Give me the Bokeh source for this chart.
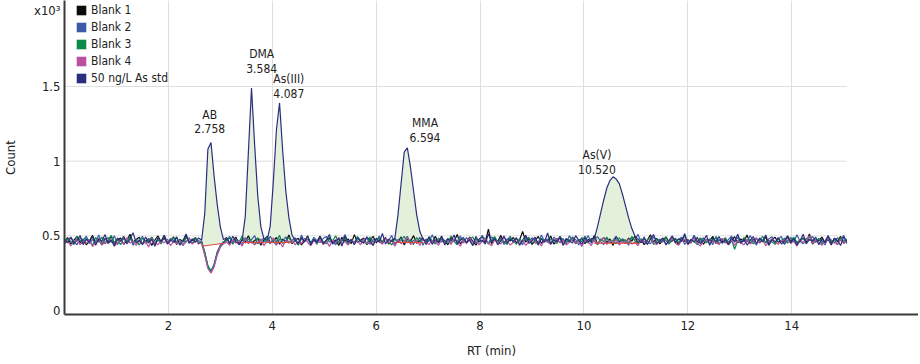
import numpy as np
from bokeh.plotting import figure
from bokeh.models import Range1d, FixedTicker, Legend, LegendItem, ColumnDataSource
from bokeh.core.properties import value
from bokeh.embed import file_html
from bokeh.resources import INLINE

# ---------------- data ----------------
RT_STEP = 0.06  # minutes between samples, first sample at 0 min

std_50 = [
    472, 455, 490, 448, 468, 502, 441, 476, 459, 495, 437, 481,
    463, 508, 450, 471, 433, 486, 465, 497, 446, 478, 521, 452,
    469, 440, 492, 458, 475, 430, 488, 461, 504, 444, 473, 456,
    491, 438, 467, 512, 449, 479, 457, 486, 470, 650, 1080, 1125,
    900, 710, 560, 475, 488, 452, 497, 461, 443, 470, 630, 1060,
    1490, 1110, 770, 560, 480, 470, 565, 860, 1210, 1390, 1070, 800,
    620, 505, 468, 447, 489, 460, 501, 439, 476, 455, 493, 448,
    471, 509, 444, 466, 482, 431, 497, 458, 474, 440, 486, 462,
    451, 493, 470, 436, 484, 457, 516, 445, 478, 461, 485, 640,
    850, 1060, 1090, 960, 800, 640, 530, 478, 459, 492, 443, 474,
    456, 499, 438, 481, 463, 505, 447, 470, 489, 452, 476, 434,
    495, 460, 471, 445, 513, 458, 483, 440, 466, 498, 451, 477,
    462, 487, 436, 472, 504, 449, 468, 491, 442, 480, 457, 519,
    446, 474, 461, 496, 437, 483, 466, 452, 501, 470, 444, 488,
    459, 478, 482, 560, 650, 740, 820, 870, 895, 880, 850, 780,
    700, 620, 550, 500, 478, 453, 492, 441, 475, 509, 448, 467,
    485, 439, 471, 498, 454, 480, 462, 515, 443, 476, 458, 490,
    447, 469, 503, 436, 484, 461, 495, 450, 473, 442, 488, 464,
    510, 453, 479, 438, 467, 494, 449, 482, 460, 506, 441, 474,
    457, 489, 445, 470, 499, 452, 481, 437, 466, 511, 448, 476,
    463, 492, 440, 478, 455, 502, 446, 484, 469, 435, 493, 460,
]

blank_1 = [
    461, 488, 447, 470, 495, 452, 479, 440, 466, 503, 455, 474,
    438, 482, 460, 497, 449, 471, 486, 443, 468, 510, 457, 476,
    491, 445, 463, 480, 436, 472, 499, 458, 484, 450, 467, 493,
    442, 478, 461, 505, 453, 470, 488, 446, 460, 385, 295, 258,
    305, 385, 432, 455, 481, 449, 466, 492, 441, 475, 458, 500,
    451, 469, 484, 437, 473, 496, 455, 462, 489, 444, 478, 459,
    506, 447, 471, 483, 439, 465, 494, 452, 476, 461, 498, 443,
    468, 487, 454, 472, 435, 490, 463, 479, 448, 508, 457, 470,
    485, 441, 466, 497, 453, 474, 460, 489, 445, 471, 482, 456,
    493, 438, 477, 464, 501, 450, 469, 486, 443, 475, 459, 496,
    452, 480, 467, 440, 488, 462, 509, 446, 473, 457, 491, 464,
    437, 476, 495, 455, 545, 448, 484, 461, 503, 444, 478, 466,
    489, 453, 472, 530, 458, 481, 442, 467, 496, 450, 474, 463,
    499, 445, 470, 486, 439, 477, 458, 492, 451, 468, 482, 447,
    475, 460, 502, 443, 469, 488, 454, 479, 436, 494, 461, 472,
    448, 485, 464, 497, 452, 476, 441, 470, 507, 457, 483, 446,
    471, 493, 455, 466, 480, 438, 489, 462, 474, 451, 500, 459,
    484, 443, 477, 468, 496, 449, 472, 458, 487, 440, 465, 494,
    453, 479, 462, 505, 446, 471, 483, 455, 468, 492, 437, 476,
    490, 457, 470, 444, 498, 463, 481, 450, 474, 486, 459, 512,
    445, 473, 467, 491, 454, 478, 439, 484, 461, 496, 450, 469,
]

blank_2 = [
    478, 452, 491, 463, 440, 486, 470, 498, 447, 475, 459, 506,
    449, 473, 488, 456, 501, 442, 467, 483, 458, 494, 436, 479,
    465, 497, 450, 476, 489, 445, 471, 460, 504, 453, 482, 468,
    492, 439, 474, 459, 487, 448, 480, 466, 462, 375, 285, 262,
    310, 392, 438, 460, 470, 496, 452, 481, 463, 440, 489, 457,
    475, 502, 446, 469, 484, 453, 497, 461, 438, 478, 466, 493,
    451, 472, 487, 443, 505, 460, 476, 449, 490, 467, 455, 482,
    496, 458, 471, 439, 485, 464, 509, 452, 477, 446, 493, 469,
    457, 488, 443, 475, 462, 498, 450, 481, 468, 503, 441, 474,
    486, 462, 497, 448, 471, 455, 490, 437, 479, 464, 507, 451,
    470, 494, 458, 483, 445, 476, 461, 499, 453, 488, 466, 440,
    481, 456, 503, 469, 449, 492, 474, 458, 485, 443, 471, 497,
    455, 479, 466, 440, 495, 461, 487, 473, 450, 506, 464, 478,
    443, 491, 470, 457, 482, 448, 500, 467, 475, 439, 489, 460,
    502, 450, 477, 494, 463, 442, 485, 456, 471, 498, 452, 480,
    466, 437, 488, 472, 510, 454, 479, 461, 446, 493, 475, 458,
    483, 468, 445, 499, 457, 476, 490, 442, 472, 460, 504, 449,
    462, 487, 454, 478, 441, 495, 467, 483, 451, 474, 498, 456,
    490, 447, 473, 459, 501, 464, 438, 486, 470, 455, 480, 493,
    452, 476, 496, 444, 468, 489, 458, 507, 463, 447, 484, 471,
    497, 456, 480, 465, 439, 492, 473, 451, 488, 466, 503, 448,
]

blank_3 = [
    455, 480, 463, 441, 497, 468, 452, 484, 470, 436, 489, 458,
    492, 447, 469, 503, 454, 477, 440, 486, 462, 495, 450, 473,
    438, 483, 466, 452, 491, 460, 475, 445, 500, 457, 470, 487,
    459, 476, 433, 490, 464, 449, 481, 456, 458, 392, 300, 265,
    298, 378, 428, 452, 466, 487, 444, 473, 459, 499, 451, 478,
    463, 439, 485, 470, 456, 494, 446, 476, 461, 503, 448, 467,
    488, 454, 472, 437, 480, 465, 496, 451, 474, 443, 490, 460,
    447, 478, 463, 501, 452, 469, 484, 440, 471, 457, 493, 462,
    476, 444, 492, 458, 467, 486, 449, 479, 462, 438, 483, 455,
    469, 497, 453, 474, 441, 488, 460, 477, 450, 494, 465, 446,
    485, 458, 471, 448, 499, 463, 440, 482, 468, 454, 479, 492,
    451, 474, 460, 487, 445, 470, 495, 456, 473, 464, 442, 489,
    466, 443, 481, 458, 476, 490, 453, 469, 437, 484, 471, 457,
    480, 461, 449, 494, 467, 455, 472, 488, 445, 476, 460, 499,
    450, 484, 465, 441, 478, 462, 492, 455, 470, 447, 486, 463,
    474, 452, 496, 467, 445, 481, 458, 473, 489, 442, 465, 478,
    459, 490, 447, 472, 484, 456, 467, 501, 450, 477, 463, 441,
    486, 466, 453, 479, 460, 492, 444, 470, 482, 457, 475, 410,
    468, 454, 489, 463, 476, 445, 481, 466, 497, 452, 471, 458,
    443, 479, 462, 485, 451, 473, 490, 456, 468, 482, 446, 494,
    471, 460, 483, 448, 466, 495, 457, 474, 442, 487, 463, 478,
]

blank_4 = [
    445, 468, 432, 459, 481, 440, 463, 450, 474, 428, 457, 485,
    438, 462, 449, 476, 430, 455, 470, 443, 488, 451, 466, 436,
    472, 447, 460, 425, 483, 454, 441, 467, 452, 479, 435, 461,
    448, 470, 437, 458, 486, 444, 465, 453, 450, 370, 282, 250,
    292, 372, 425, 446, 459, 437, 474, 452, 466, 431, 480, 448,
    463, 441, 456, 478, 434, 469, 450, 487, 445, 460, 427, 471,
    454, 476, 439, 462, 448, 483, 457, 433, 468, 451, 475, 442,
    466, 429, 471, 455, 490, 446, 461, 438, 477, 453, 464, 440,
    480, 449, 458, 436, 472, 460, 444, 485, 452, 467, 431, 474,
    447, 463, 489, 441, 456, 470, 435, 478, 455, 442, 469, 458,
    437, 475, 452, 466, 443, 481, 459, 430, 471, 448, 486, 455,
    468, 440, 462, 479, 451, 434, 473, 457, 445, 490, 464, 439,
    455, 482, 446, 470, 436, 461, 477, 449, 465, 432, 473, 458,
    443, 467, 484, 453, 471, 439, 456, 480, 447, 463, 429, 476,
    460, 435, 472, 448, 465, 487, 442, 469, 454, 476, 438, 462,
    451, 479, 444, 458, 433, 474, 463, 447, 482, 456, 440, 470,
    475, 446, 461, 488, 452, 437, 466, 478, 443, 459, 484, 450,
    432, 464, 476, 449, 470, 455, 441, 483, 458, 445, 472, 436,
    467, 453, 439, 478, 446, 462, 487, 450, 473, 434, 460, 481,
    457, 443, 471, 460, 485, 448, 466, 431, 476, 454, 468, 500,
    449, 474, 458, 436, 469, 482, 445, 461, 439, 477, 453, 466,
]

series_names = ["Blank 1", "Blank 2", "Blank 3", "Blank 4", "50 ng/L As std"]
series_colors = ["#0b0b0b", "#3d5aa8", "#0c8a47", "#bb50a2", "#2b2e7f"]

peak_names = ["AB", "DMA", "As(III)", "MMA", "As(V)"]
peak_rt = [2.758, 3.584, 4.087, 6.594, 10.520]
peak_start = [2.64, 3.42, 3.90, 6.36, 10.20]
peak_end = [3.06, 3.84, 4.38, 6.90, 11.04]
base_start = [430, 455, 455, 455, 450]
base_end = [450, 455, 455, 455, 450]

x_ticks = [2, 4, 6, 8, 10, 12, 14]
y_ticks = [0, 0.5, 1, 1.5]
y_tick_labels = ["0", "0.5", "1", "1.5"]
y_multiplier = "x10³"

# ---------------- style / layout ----------------
FONT = "'Liberation Sans Narrow', 'DejaVu Sans Condensed', sans-serif"
TXT = "#222222"
Y_START, Y_END = -0.027, 2.076
MULT_POS = 2.01  # where the multiplier text sits along the y axis

rt = np.arange(len(std_50)) * RT_STEP
scale = 1000.0  # counts -> x10^3

p = figure(width=918, height=362, output_backend="svg", toolbar_location=None,
           x_range=Range1d(0, 16.44), y_range=Range1d(Y_START, Y_END),
           min_border_left=63, min_border_right=0, min_border_top=0,
           min_border_bottom=48)
p.outline_line_color = None
p.background_fill_color = "white"

# grids
p.xgrid.ticker = FixedTicker(ticks=x_ticks)
p.xgrid.grid_line_color = "#dedede"
p.ygrid.grid_line_color = None
p.segment(x0=[0] * 3, x1=[rt[-1]] * 3, y0=y_ticks[1:], y1=y_ticks[1:],
          line_color="#dedede", line_width=1)

# axes
for ax in (p.xaxis[0], p.yaxis[0]):
    ax.axis_line_color = "#3a3a3a"
    ax.axis_line_width = 2
    ax.major_tick_line_color = None
    ax.minor_tick_line_color = None
    ax.major_tick_out = 0
    ax.major_tick_in = 0
    ax.minor_tick_out = 0
    ax.minor_tick_in = 0
    ax.major_label_text_font = FONT
    ax.major_label_text_font_size = "13px"
    ax.major_label_text_color = TXT
    ax.axis_label_text_font = FONT
    ax.axis_label_text_font_size = "13px"
    ax.axis_label_text_font_style = "normal"
    ax.axis_label_text_color = TXT
p.xaxis.ticker = FixedTicker(ticks=x_ticks)
p.yaxis.ticker = FixedTicker(ticks=y_ticks + [MULT_POS])
overrides = {t: s for t, s in zip(y_ticks, y_tick_labels)}
overrides[MULT_POS] = y_multiplier
p.yaxis.major_label_overrides = overrides
p.xaxis.axis_label = "RT (min)"
p.yaxis.axis_label = "Count"
p.xaxis.major_label_standoff = 6
p.yaxis.major_label_standoff = 4
p.xaxis.axis_label_standoff = 10
p.yaxis.axis_label_standoff = 13

std_arr = np.array(std_50) / scale

# peak area fills
for s, e, b0, b1 in zip(peak_start, peak_end, base_start, base_end):
    m = (rt >= s - 1e-9) & (rt <= e + 1e-9)
    base = np.interp(rt[m], [s, e], [b0 / scale, b1 / scale])
    top = np.maximum(std_arr[m], base)
    p.varea(x=rt[m], y1=base, y2=top, fill_color="#e3f0da", fill_alpha=1)

# traces
all_series = [blank_1, blank_2, blank_3, blank_4, std_50]
for vals, col in zip(all_series, series_colors):
    p.line(rt, np.array(vals) / scale, line_color=col, line_width=1.2)

# integration baselines
p.segment(x0=peak_start, x1=peak_end,
          y0=[b / scale for b in base_start], y1=[b / scale for b in base_end],
          line_color="#e5473c", line_width=1)

# peak labels
apex = []
for r in peak_rt:
    m = np.abs(rt - r) < 0.15
    apex.append(float(std_arr[m].max()))
lab_xoff = [2, 11, 12, 18, -14]
lab_yoff = [-6, -12, -2, -3, 0]
src = ColumnDataSource(dict(x=peak_rt, y=apex,
                            t=[f"{n}\n{r:.3f}" for n, r in zip(peak_names, peak_rt)],
                            xo=lab_xoff, yo=lab_yoff))
p.text(x="x", y="y", text="t", x_offset="xo", y_offset="yo", source=src,
       text_align="center", text_baseline="bottom", text_font=value(FONT),
       text_font_size="12px", text_color=TXT, text_line_height=1.05)

# legend with square swatches (proxy renderers with one non-drawn entry)
items = []
for name, col in zip(series_names, series_colors):
    r = p.quad(left=[np.nan], right=[np.nan], top=[np.nan], bottom=[np.nan],
               fill_color=col, line_color=None)
    items.append(LegendItem(label=name, renderers=[r]))
legend = Legend(items=items, location=(11, 229), glyph_width=12, glyph_height=12,
                label_height=12, spacing=3, padding=3, margin=0,
                label_text_font=FONT, label_text_font_size="12px",
                label_text_color=TXT, label_standoff=4,
                border_line_color=None, background_fill_color="white",
                background_fill_alpha=1)
p.add_layout(legend)

open("out.html", "w").write(file_html(p, INLINE))
